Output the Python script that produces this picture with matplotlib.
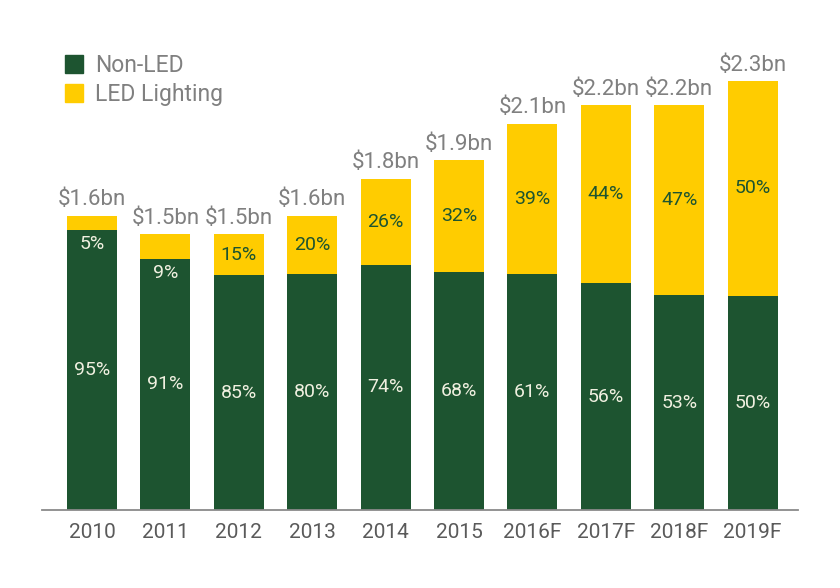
import matplotlib
matplotlib.use("Agg")
import matplotlib.pyplot as plt
from matplotlib.patches import Patch
import numpy as np

years = ["2010", "2011", "2012", "2013", "2014", "2015", "2016F", "2017F", "2018F", "2019F"]
totals = [1.6, 1.5, 1.5, 1.6, 1.8, 1.9, 2.1, 2.2, 2.2, 2.33]
total_labels = ["$1.6bn", "$1.5bn", "$1.5bn", "$1.6bn", "$1.8bn", "$1.9bn", "$2.1bn", "$2.2bn", "$2.2bn", "$2.3bn"]
led_pct = [5, 9, 15, 20, 26, 32, 39, 44, 47, 50]
nonled_pct = [95, 91, 85, 80, 74, 68, 61, 56, 53, 50]

GREEN = "#1d5430"
YELLOW = "#ffcc00"
GRAY = "#808080"
TICK = "#5a5a5a"
LIGHT = "#f0f0e0"

plt.rcParams['font.family'] = ['Roboto', 'DejaVu Sans']

fig = plt.figure(figsize=(8.4, 5.88), dpi=100)
fig.patch.set_facecolor("white")
H = 588.0
base_px = 78.0
ax = fig.add_axes([0, base_px / H, 1, 1 - base_px / H])
pxbn = 184.0
ax.set_ylim(0, (H - base_px) / pxbn)
step = 73.4
ax.set_xlim(-92 / step, (840 - 92) / step)

x = np.arange(len(years))
tot = np.array(totals)
non = tot * np.array(nonled_pct) / 100.0
led = tot - non
w = 50 / step
ax.bar(x, non, width=w, color=GREEN, linewidth=0)
ax.bar(x, led, width=w, bottom=non, color=YELLOW, linewidth=0)

for i in range(len(years)):
    ax.text(x[i], non[i] / 2, f"{nonled_pct[i]}%", ha="center", va="center",
            color=LIGHT, fontsize=14)
    if led_pct[i] < 12:
        ax.annotate(f"{led_pct[i]}%", (x[i], non[i]), xytext=(0, -14), textcoords="offset pixels",
                    ha="center", va="center", color=LIGHT, fontsize=14)
    else:
        ax.text(x[i], non[i] + led[i] / 2, f"{led_pct[i]}%", ha="center", va="center",
                color=GREEN, fontsize=14)
    ax.annotate(total_labels[i], (x[i], tot[i]), xytext=(0, 16), textcoords="offset pixels",
                ha="center", va="center", color=GRAY, fontsize=16, annotation_clip=False)

ax.plot([(42 - 92) / step, (798 - 92) / step], [0, 0], color="#8a8a8a", lw=1.3, clip_on=False)

ax.set_xticks(x)
ax.set_xticklabels(years, color=TICK, fontsize=15)
ax.tick_params(axis="x", length=0, pad=9)
ax.set_yticks([])
for s in ax.spines.values():
    s.set_visible(False)
ax.patch.set_alpha(0)

handles = [Patch(color=GREEN, label="Non-LED"), Patch(color=YELLOW, label="LED Lighting")]
leg = fig.legend(handles=handles, loc="upper left", bbox_to_anchor=(65 / 840, 1 - 54 / H),
                 frameon=False, fontsize=16.5, handlelength=0.8, handleheight=0.8,
                 handletextpad=0.5, labelspacing=0.25, borderpad=0, borderaxespad=0)
for t in leg.get_texts():
    t.set_color(GRAY)

fig.savefig("out.png", dpi=100)
